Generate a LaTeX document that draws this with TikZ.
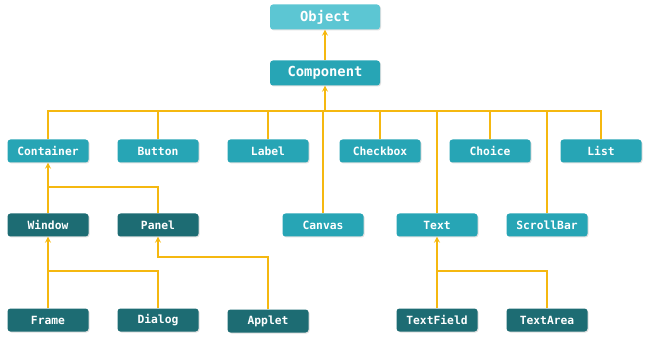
\documentclass[tikz,border=0pt]{standalone}
\usepackage{fontspec}
\setmonofont{DejaVu Sans Mono}
\usetikzlibrary{calc,shadows}
\definecolor{lite}{HTML}{5CC6D3}
\definecolor{teal1}{HTML}{27A5B5}
\definecolor{teal2}{HTML}{1D6C73}
\definecolor{wire}{HTML}{F5B810}

\tikzset{
  cls/.style={minimum width=81pt, minimum height=23pt, rounded corners=3pt,
    text=white, font=\ttfamily\bfseries\fontsize{11.3}{13}\selectfont,
    drop shadow={opacity=0.25, shadow xshift=1pt, shadow yshift=-1pt}},
  big/.style={minimum width=110pt, minimum height=25pt,
    font=\ttfamily\bfseries\fontsize{13.8}{16}\selectfont},
  top/.style={cls, big, fill=lite},
  mid/.style={cls, fill=teal1},
  low/.style={cls, fill=teal2},
  link/.style={wire, line width=1.6pt},
  arr/.style={link, ->, >=stealth},
}

\begin{document}
\begin{tikzpicture}[x=1pt,y=-1pt]
\useasboundingbox (0,0) rectangle (648,339);

\node[top] (obj) at (325,17) {Object};
\node[mid, big] (comp) at (325,73) {Component};

% second row
\node[mid] (cont) at (48,151) {Container};
\node[mid] (btn) at (158,151) {Button};
\node[mid] (lab) at (268,151) {Label};
\node[mid] (chk) at (380,151) {Checkbox};
\node[mid] (cho) at (490,151) {Choice};
\node[mid] (lst) at (601,151) {List};

% third row
\node[low] (win) at (48,225) {Window};
\node[low] (pan) at (158,225) {Panel};
\node[mid] (canv) at (323,225) {Canvas};
\node[mid] (txt) at (437,225) {Text};
\node[mid] (scr) at (547,225) {ScrollBar};

% bottom row
\node[low] (frm) at (48,320) {Frame};
\node[low] (dlg) at (158,320) {Dialog};
\node[low] (app) at (268,321) {Applet};
\node[low] (tf) at (437,320) {TextField};
\node[low] (ta) at (547,320) {TextArea};

\coordinate (bus) at (325,111);
\coordinate (cbus) at (0,187);
\coordinate (abus) at (0,257);
\coordinate (lbus) at (0,271);

\draw[arr] (comp) -- (obj);
\draw[link] (cont.north) |- (bus) -| (lst.north);
\foreach \n in {btn,lab,chk,cho,canv,txt,scr}
  \draw[link] (\n.north) -- (\n.north |- bus);
\draw[arr] (bus) -- (comp);

\draw[link] (pan.north) |- (win.north |- cbus);
\draw[arr] (win) -- (cont);

\draw[link] (dlg.north) |- (frm.north |- lbus);
\draw[arr] (frm) -- (win);
\draw[arr] (app.north) |- (pan.south |- abus) -- (pan.south);

\draw[link] (ta.north) |- (tf.north |- lbus);
\draw[arr] (tf) -- (txt);
\end{tikzpicture}
\end{document}
